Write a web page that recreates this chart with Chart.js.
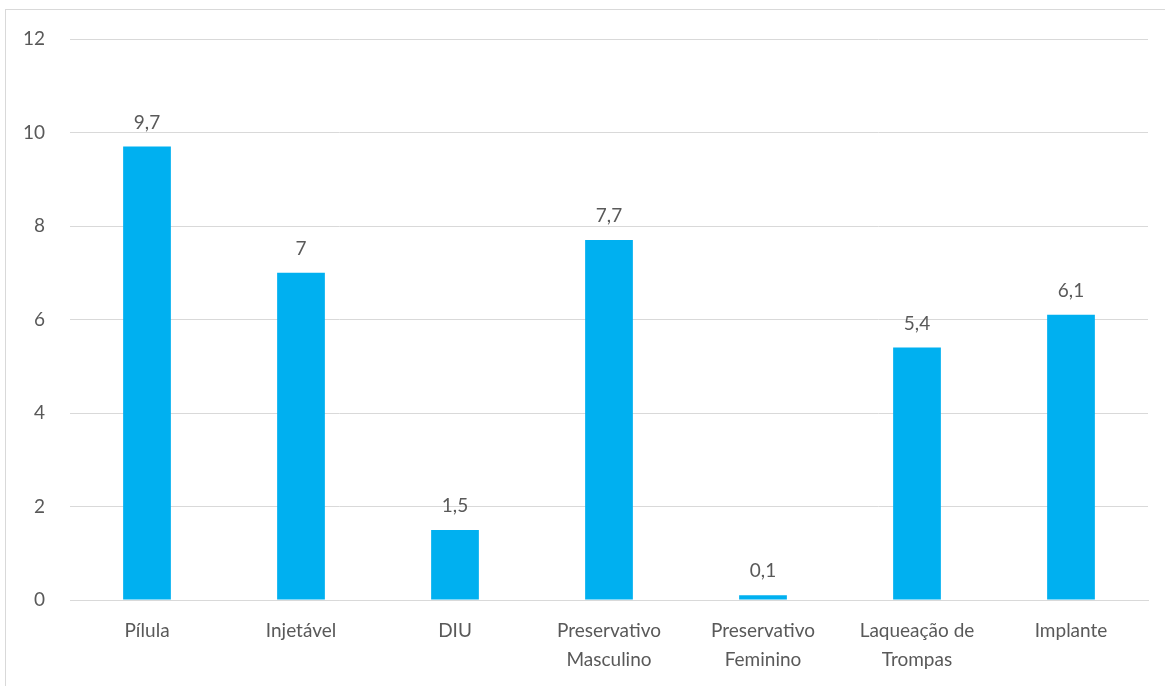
<!DOCTYPE html>
<html>
<head>
<meta charset="utf-8">
<script src="https://cdn.jsdelivr.net/npm/chart.js@4.4.0/dist/chart.umd.min.js"></script>
<style>
html,body{margin:0;padding:0;background:#fff;}
#wrap{position:absolute;left:0;top:0;width:1165px;height:686px;}
</style>
</head>
<body>
<div id="wrap"><canvas id="c" width="1165" height="686"></canvas></div>
<script>
const categories = ["Pílula", "Injetável", "DIU", ["Preservativo", "Masculino"], ["Preservativo", "Feminino"], ["Laqueação de", "Trompas"], "Implante"];
const values = [9.7, 7, 1.5, 7.7, 0.1, 5.4, 6.1];
const valueLabels = ["9,7", "7", "1,5", "7,7", "0,1", "5,4", "6,1"];

const FONT = "Lato, 'Open Sans', sans-serif";
const TXT = "#595959";

const borderPlugin = {
  id: 'borderFrame',
  beforeDraw(chart) {
    const ctx = chart.ctx;
    ctx.save();
    ctx.fillStyle = '#fff';
    ctx.fillRect(0, 0, chart.width, chart.height);
    ctx.strokeStyle = '#d9d9d9';
    ctx.lineWidth = 1;
    ctx.strokeRect(5.5, 9.5, 1300, 1000);
    ctx.restore();
  }
};

const labelPlugin = {
  id: 'valLabels',
  afterDatasetsDraw(chart) {
    const ctx = chart.ctx;
    const meta = chart.getDatasetMeta(0);
    ctx.save();
    ctx.font = "19px " + FONT;
    ctx.fillStyle = TXT;
    ctx.textAlign = 'center';
    ctx.textBaseline = 'alphabetic';
    meta.data.forEach((bar, i) => {
      ctx.fillText(valueLabels[i], bar.x, bar.y - 18);
    });
    ctx.restore();
  }
};

new Chart(document.getElementById('c'), {
  type: 'bar',
  data: {
    labels: categories,
    datasets: [{
      data: values,
      backgroundColor: '#00B0F0',
      barPercentage: 0.31,
      categoryPercentage: 1.0
    }]
  },
  options: {
    responsive: false,
    animation: false,
    devicePixelRatio: 1,
    layout: { padding: { top: 39, right: 17, left: 0, bottom: 0 } },
    plugins: { legend: { display: false }, tooltip: { enabled: false } },
    scales: {
      x: {
        grid: { display: false, drawTicks: false },
        border: { display: true, color: '#d9d9d9', width: 1 },
        ticks: { color: TXT, font: { family: FONT, size: 19, lineHeight: '29px' }, padding: 16, maxRotation: 0, autoSkip: false },
        afterFit(s) { s.height = 86; }
      },
      y: {
        min: 0, max: 12,
        grid: { color: '#d9d9d9', drawTicks: false },
        border: { display: false },
        ticks: { stepSize: 2, color: TXT, font: { family: FONT, size: 19 }, padding: 25 },
        afterFit(s) { s.width = 70; }
      }
    }
  },
  plugins: [borderPlugin, labelPlugin]
});
</script>
</body>
</html>
